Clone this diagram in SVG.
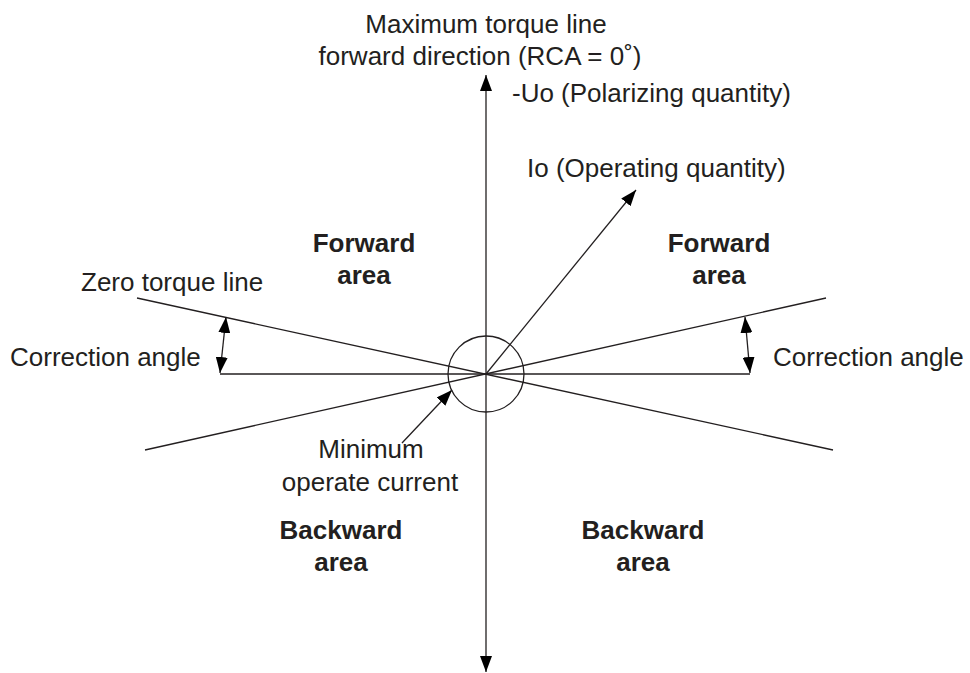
<svg xmlns="http://www.w3.org/2000/svg" width="970" height="673" viewBox="0 0 970 673">
<style>
text{font-family:"Liberation Sans",Arial,sans-serif;font-size:26px;fill:#231f20}
.b{font-weight:bold}
.m{text-anchor:middle}
.ln{stroke:#231f20;stroke-width:1.3;fill:none}
</style>
<defs>
<marker id="ah" markerUnits="userSpaceOnUse" markerWidth="16" markerHeight="12" viewBox="0 0 16 12" refX="16" refY="6" orient="auto-start-reverse">
<path d="M0,0 L16,6 L0,12 z" fill="#000"/>
</marker>
</defs>
<rect width="970" height="673" fill="#fff"/>
<g id="connectors">
<line class="ln" x1="486" y1="672" x2="486" y2="75" marker-start="url(#ah)" marker-end="url(#ah)"/>
<line class="ln" x1="220" y1="374" x2="750" y2="374"/>
<line class="ln" x1="137" y1="298" x2="833" y2="450"/>
<line class="ln" x1="145" y1="450" x2="826" y2="298"/>
<line class="ln" x1="486" y1="374" x2="636" y2="190" marker-end="url(#ah)"/>
<line class="ln" x1="220" y1="373" x2="226" y2="317" marker-start="url(#ah)" marker-end="url(#ah)"/>
<line class="ln" x1="750" y1="373" x2="745" y2="317" marker-start="url(#ah)" marker-end="url(#ah)"/>
<line class="ln" x1="402" y1="443" x2="452" y2="390" marker-end="url(#ah)"/>
</g>
<g id="min-circle"><circle class="ln" cx="486" cy="374" r="38"/></g>
<g id="max-torque"><text class="m" x="486" y="33">Maximum torque line</text><text class="m" x="480" y="65">forward direction (RCA = 0˚)</text></g>
<g id="uo"><text x="512" y="102">-Uo (Polarizing quantity)</text></g>
<g id="io"><text x="527" y="177">Io (Operating quantity)</text></g>
<g id="fwd-left"><text class="b m" x="364" y="252">Forward</text><text class="b m" x="364" y="284">area</text></g>
<g id="fwd-right"><text class="b m" x="719" y="252">Forward</text><text class="b m" x="719" y="284">area</text></g>
<g id="zero-torque"><text x="81" y="291">Zero torque line</text></g>
<g id="corr-left"><text x="10" y="366">Correction angle</text></g>
<g id="corr-right"><text x="773" y="366">Correction angle</text></g>
<g id="min-current"><text class="m" x="371" y="458">Minimum</text><text class="m" x="370" y="491">operate current</text></g>
<g id="bwd-left"><text class="b m" x="341" y="539">Backward</text><text class="b m" x="341" y="571">area</text></g>
<g id="bwd-right"><text class="b m" x="643" y="539">Backward</text><text class="b m" x="643" y="571">area</text></g>
</svg>
